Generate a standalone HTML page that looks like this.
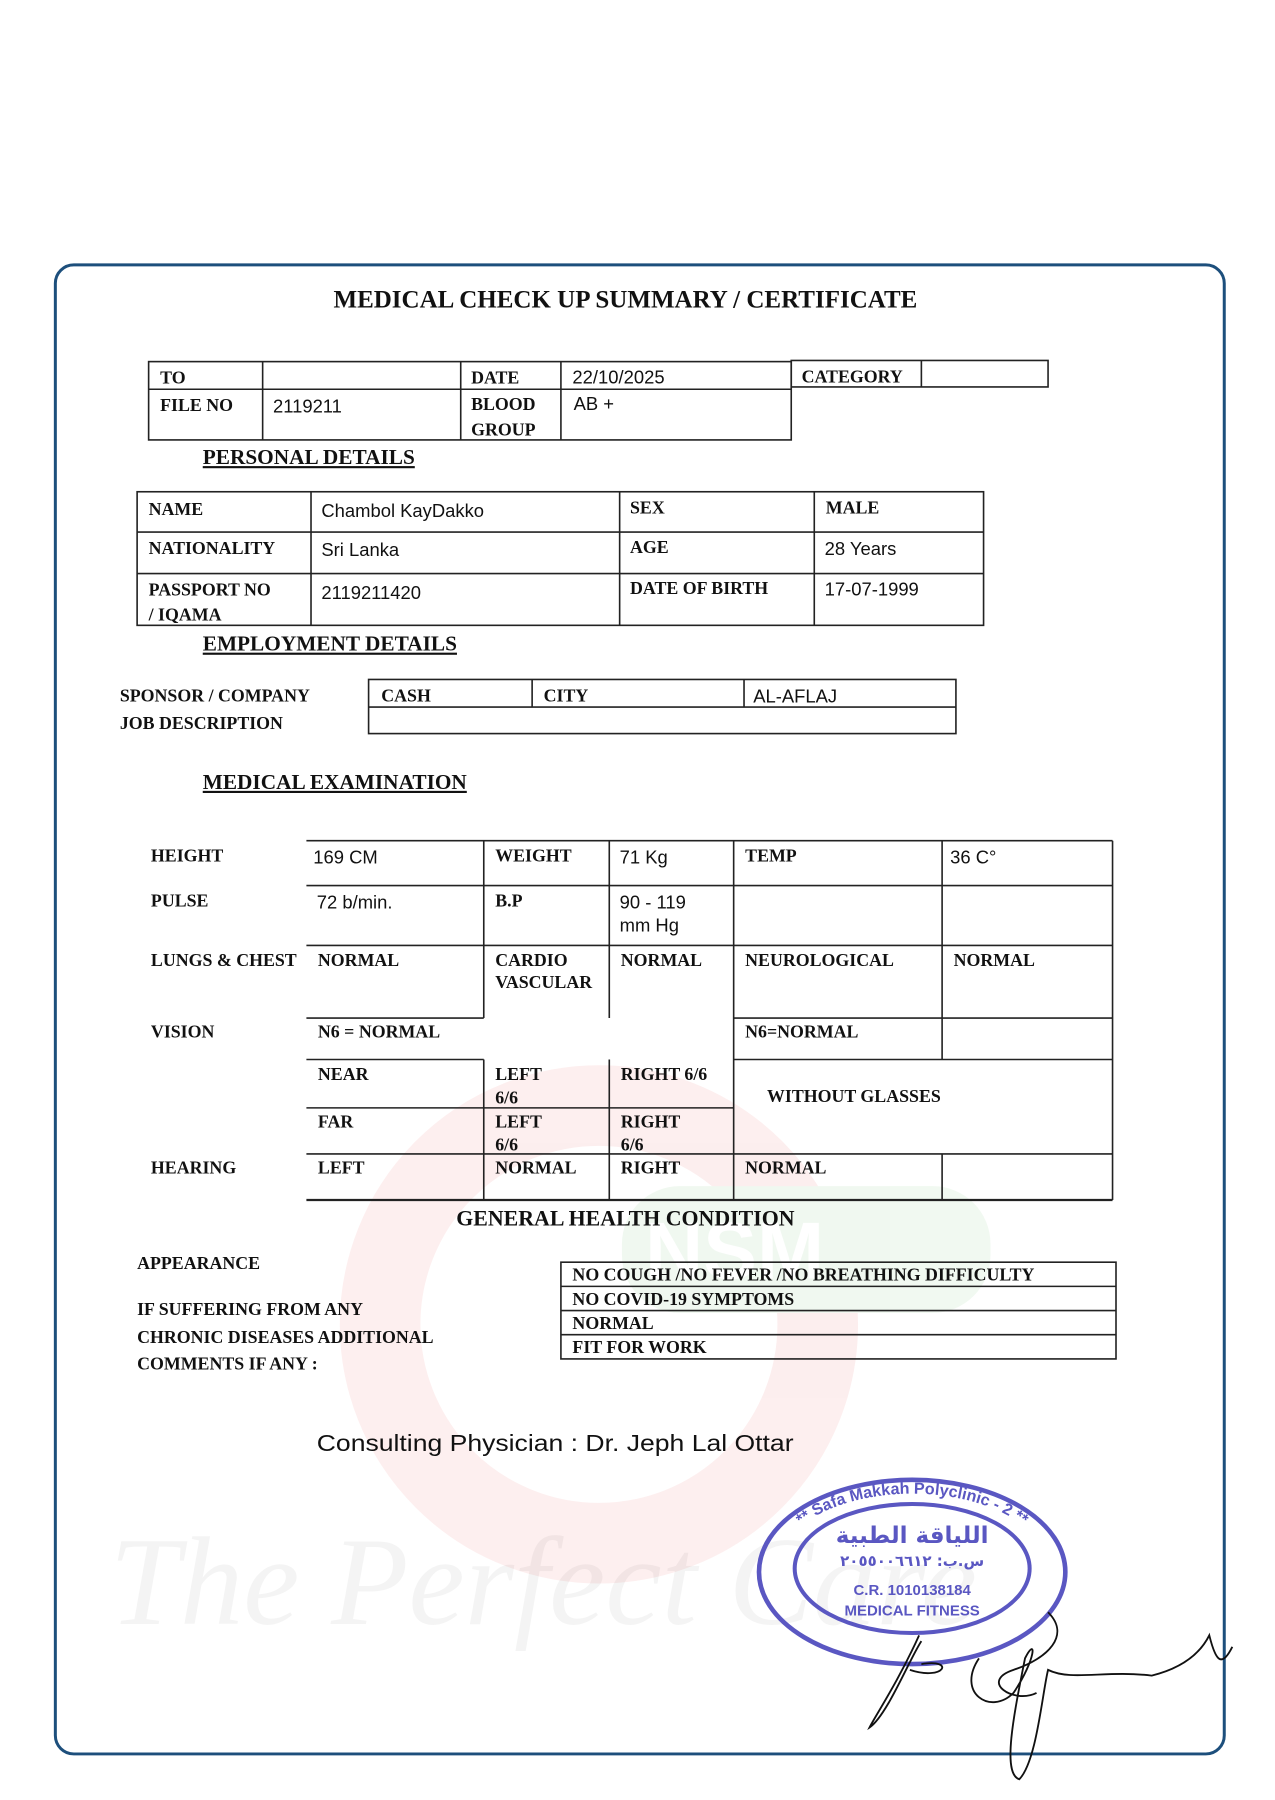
<!DOCTYPE html>
<html><head><meta charset="utf-8"><style>
html,body{margin:0;padding:0;background:#fff;}
svg{display:block;}
.s{font-family:"Liberation Serif",serif;font-weight:bold;font-size:15.5px;fill:#111;}
.v{font-family:"Liberation Sans",sans-serif;font-size:16px;fill:#111;}
.h{font-family:"Liberation Serif",serif;font-weight:bold;font-size:18.5px;fill:#111;text-decoration:underline;}
</style></head><body>
<svg width="1275" height="1800" viewBox="0 0 1107 1563" xmlns="http://www.w3.org/2000/svg">
<defs>
<path id="arc" d="M672 1365 A120 68 0 0 1 912 1365"/>
</defs>
<rect width="1107" height="1563" fill="#fff"/>
<!-- watermark -->
<g opacity="0.08">
<circle cx="520" cy="1150" r="190" fill="none" stroke="#e03030" stroke-width="70"/>
<rect x="540" y="1030" width="320" height="110" rx="50" fill="#4caf50"/>
<text x="560" y="1110" font-family="Liberation Sans" font-weight="bold" font-size="70" fill="#fff">NSM</text>
</g>
<text x="95" y="1410" font-family="Liberation Serif" font-style="italic" font-size="110" fill="#000" opacity="0.04">The Perfect Care</text>
<rect x="48" y="230" width="1015" height="1293" rx="16" fill="none" stroke="#1d4f7c" stroke-width="2.6"/>
<text x="543" y="267" text-anchor="middle" font-family="Liberation Serif" font-weight="bold" font-size="22" textLength="507" lengthAdjust="spacingAndGlyphs" fill="#111">MEDICAL CHECK UP SUMMARY / CERTIFICATE</text>
<g stroke="#222" stroke-width="1.4" fill="none">
<rect x="129" y="314" width="558" height="68"/>
<line x1="129" y1="338" x2="687" y2="338"/>
<line x1="228" y1="314" x2="228" y2="382"/><line x1="400" y1="314" x2="400" y2="382"/><line x1="487" y1="314" x2="487" y2="382"/>
<rect x="687" y="313" width="223" height="23"/><line x1="800" y1="313" x2="800" y2="336"/>
<rect x="119" y="427" width="735" height="116"/>
<line x1="119" y1="462" x2="854" y2="462"/><line x1="119" y1="498" x2="854" y2="498"/>
<line x1="270" y1="427" x2="270" y2="543"/><line x1="538" y1="427" x2="538" y2="543"/><line x1="707" y1="427" x2="707" y2="543"/>
<rect x="320" y="590" width="510" height="47"/><line x1="320" y1="614" x2="830" y2="614"/>
<line x1="462" y1="590" x2="462" y2="614"/><line x1="646" y1="590" x2="646" y2="614"/>
<line x1="266" y1="730" x2="966" y2="730"/>
<line x1="266" y1="769" x2="966" y2="769"/>
<line x1="266" y1="821" x2="966" y2="821"/>
<line x1="266" y1="884" x2="420" y2="884"/><line x1="637" y1="884" x2="966" y2="884"/>
<line x1="266" y1="920" x2="420" y2="920"/><line x1="637" y1="920" x2="966" y2="920"/>
<line x1="266" y1="962" x2="637" y2="962"/>
<line x1="266" y1="1002" x2="966" y2="1002"/>
<line x1="266" y1="1042" x2="966" y2="1042" stroke-width="2"/>
<line x1="420" y1="730" x2="420" y2="884"/><line x1="420" y1="920" x2="420" y2="1042"/>
<line x1="529" y1="730" x2="529" y2="884"/><line x1="529" y1="920" x2="529" y2="1042"/>
<line x1="637" y1="730" x2="637" y2="1042"/>
<line x1="818" y1="730" x2="818" y2="920"/><line x1="818" y1="1002" x2="818" y2="1042"/>
<line x1="966" y1="730" x2="966" y2="1042"/>
<rect x="487" y="1096" width="482" height="84"/>
<line x1="487" y1="1117" x2="969" y2="1117"/><line x1="487" y1="1138" x2="969" y2="1138"/><line x1="487" y1="1159" x2="969" y2="1159"/>
</g>
<g class="s">
<text x="139" y="333">TO</text><text x="409" y="333">DATE</text><text x="696" y="332">CATEGORY</text>
<text x="139" y="357">FILE NO</text><text x="409" y="356">BLOOD</text><text x="409" y="378">GROUP</text>
<text x="129" y="447">NAME</text><text x="547" y="446">SEX</text><text x="717" y="446">MALE</text>
<text x="129" y="481">NATIONALITY</text><text x="547" y="480">AGE</text>
<text x="129" y="517">PASSPORT NO</text><text x="129" y="539">/ IQAMA</text><text x="547" y="516">DATE OF BIRTH</text>
<text x="104" y="609">SPONSOR / COMPANY</text><text x="104" y="633">JOB DESCRIPTION</text>
<text x="331" y="609">CASH</text><text x="472" y="609">CITY</text>
<text x="131" y="748">HEIGHT</text><text x="430" y="748">WEIGHT</text><text x="647" y="748">TEMP</text>
<text x="131" y="787">PULSE</text><text x="430" y="787">B.P</text>
<text x="131" y="839">LUNGS &amp; CHEST</text><text x="276" y="839">NORMAL</text><text x="430" y="839">CARDIO</text><text x="430" y="858">VASCULAR</text><text x="539" y="839">NORMAL</text><text x="647" y="839">NEUROLOGICAL</text><text x="828" y="839">NORMAL</text>
<text x="131" y="901">VISION</text><text x="276" y="901">N6 = NORMAL</text><text x="647" y="901">N6=NORMAL</text>
<text x="276" y="938">NEAR</text><text x="430" y="938">LEFT</text><text x="430" y="958">6/6</text><text x="539" y="938">RIGHT 6/6</text><text x="666" y="957">WITHOUT GLASSES</text>
<text x="276" y="979">FAR</text><text x="430" y="979">LEFT</text><text x="430" y="999">6/6</text><text x="539" y="979">RIGHT</text><text x="539" y="999">6/6</text>
<text x="131" y="1019">HEARING</text><text x="276" y="1019">LEFT</text><text x="430" y="1019">NORMAL</text><text x="539" y="1019">RIGHT</text><text x="647" y="1019">NORMAL</text>
<text x="119" y="1102">APPEARANCE</text>
<text x="119" y="1142">IF SUFFERING FROM ANY</text><text x="119" y="1166">CHRONIC DISEASES ADDITIONAL</text><text x="119" y="1189">COMMENTS IF ANY :</text>
<text x="497" y="1112">NO COUGH /NO  FEVER /NO BREATHING DIFFICULTY</text>
<text x="497" y="1133">NO COVID-19 SYMPTOMS</text><text x="497" y="1154">NORMAL</text><text x="497" y="1175">FIT FOR WORK</text>
</g>
<text x="543" y="1064" text-anchor="middle" font-family="Liberation Serif" font-weight="bold" font-size="19" fill="#111">GENERAL HEALTH CONDITION</text>
<g class="h"><text x="176" y="403">PERSONAL DETAILS</text><text x="176" y="565">EMPLOYMENT DETAILS</text><text x="176" y="685">MEDICAL EXAMINATION</text></g>
<g class="v">
<text x="497" y="333">22/10/2025</text><text x="237" y="358">2119211</text><text x="498" y="356">AB +</text>
<text x="279" y="449">Chambol KayDakko</text><text x="279" y="483">Sri Lanka</text><text x="716" y="482">28 Years</text>
<text x="279" y="520">2119211420</text><text x="716" y="517">17-07-1999</text>
<text x="654" y="610">AL-AFLAJ</text>
<text x="272" y="750">169 CM</text><text x="538" y="750">71  Kg</text><text x="825" y="750">36  C°</text>
<text x="275" y="789">72 b/min.</text><text x="538" y="789">90 - 119</text><text x="538" y="809">mm Hg</text>
</g>
<text x="275" y="1260" font-family="Liberation Sans" font-size="20" textLength="414" lengthAdjust="spacingAndGlyphs" fill="#111">Consulting Physician : Dr. Jeph Lal Ottar</text>
<g stroke="#5a57c2" fill="none">
<ellipse cx="792" cy="1365" rx="133" ry="80" stroke-width="4"/>
<ellipse cx="792" cy="1362" rx="102" ry="56" stroke-width="3.5"/>
</g>
<g font-family="Liberation Sans" font-weight="bold" fill="#5a57c2" text-anchor="middle">
<text font-size="14"><textPath href="#arc" startOffset="50%">** Safa Makkah Polyclinic - 2 **</textPath></text>
<text x="792" y="1340" font-size="20" font-family="DejaVu Sans">اللياقة الطبية</text>
<text x="792" y="1360" font-size="13" font-family="DejaVu Sans">س.ب: ٢٠٥٥٠٠٦٦١٢</text>
<text x="792" y="1385" font-size="13">C.R. 1010138184</text>
<text x="792" y="1403" font-size="13">MEDICAL FITNESS</text>
</g>
<g stroke="#111" stroke-width="1.6" fill="none">
<path d="M910 1400 C930 1420 910 1440 880 1450 C850 1460 880 1480 900 1470"/>
<path d="M798 1420 C780 1460 760 1490 755 1500 C770 1490 790 1440 800 1425"/>
<path d="M790 1450 C820 1460 830 1440 800 1445"/>
<path d="M850 1440 C830 1470 860 1490 880 1470 C900 1440 900 1420 890 1440 C880 1490 870 1540 885 1545 C900 1530 905 1470 910 1450 C930 1460 960 1450 1000 1455 C1020 1450 1040 1440 1050 1420 C1055 1440 1060 1450 1070 1430"/>
</g>
</svg>
</body></html>
